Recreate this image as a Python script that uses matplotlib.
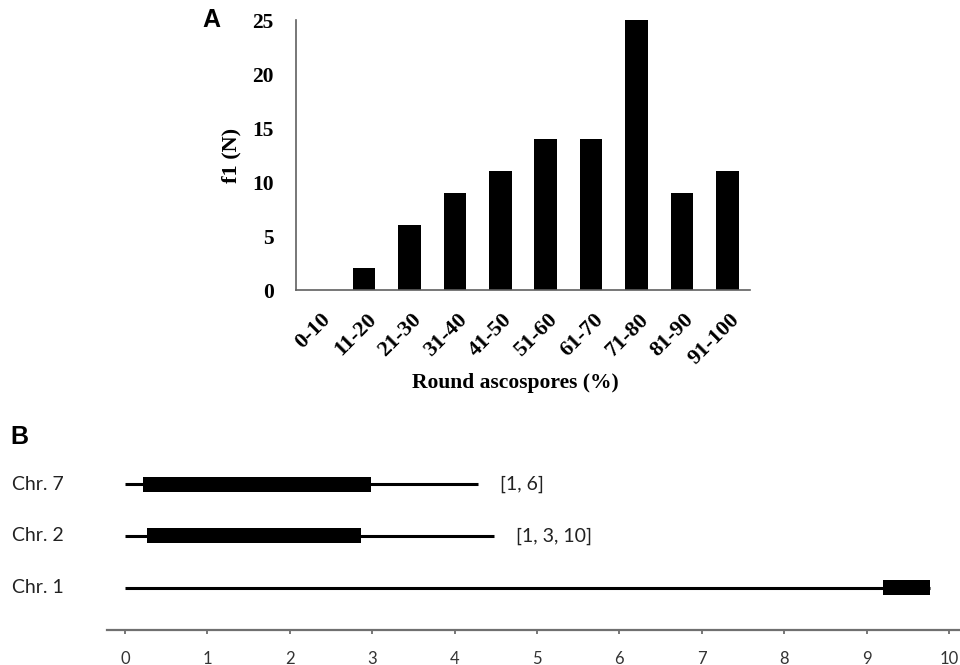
import matplotlib
matplotlib.use("Agg")
import matplotlib.pyplot as plt
import matplotlib.transforms as mtransforms

# ---- Panel A data ----
categories = ['0-10', '11-20', '21-30', '31-40', '41-50', '51-60',
              '61-70', '71-80', '81-90', '91-100']
counts = [0, 2, 6, 9, 11, 14, 14, 25, 9, 11]
yticks_a = [0, 5, 10, 15, 20, 25]

# ---- Panel B data ----
chroms = ['Chr. 7', 'Chr. 2', 'Chr. 1']
chrom_len = [4.28, 4.48, 9.77]
region_start = [0.22, 0.27, 9.2]
region_end = [2.99, 2.87, 9.77]
region_labels = ['[1, 6]', '[1, 3, 10]', '']
xticks_b = [0, 1, 2, 3, 4, 5, 6, 7, 8, 9, 10]

W, H = 960, 665
fig = plt.figure(figsize=(W / 100, H / 100), dpi=100)

def fr(x0, y0, x1, y1):
    return [x0 / W, 1 - y1 / H, (x1 - x0) / W, (y1 - y0) / H]

serif = 'Liberation Serif'

# ---------------- Panel A ----------------
axA = fig.add_axes(fr(296, 20, 750, 290))
xpos = list(range(len(categories)))
axA.bar(xpos, counts, width=0.5, color='black')
axA.set_xlim(-0.5, len(categories) - 0.5)
axA.set_ylim(0, 25)
axA.set_yticks(yticks_a)
axA.set_yticklabels([str(v) for v in yticks_a], fontfamily=serif,
                    fontweight='bold', fontsize=15.5)
axA.tick_params(axis='y', length=0, pad=16)
axA.set_xticks(xpos)
axA.set_xticklabels(categories, rotation=45, ha='right', va='top',
                    rotation_mode='anchor', fontfamily=serif,
                    fontweight='bold', fontsize=16)
axA.tick_params(axis='x', length=0, pad=14)
for lab in axA.get_xticklabels():
    lab.set_transform(lab.get_transform() +
                      mtransforms.ScaledTranslation(2 / 100, 0, fig.dpi_scale_trans))
for s in ['top', 'right']:
    axA.spines[s].set_visible(False)
for s in ['left', 'bottom']:
    axA.spines[s].set_color('#606060')
    axA.spines[s].set_linewidth(1.2)
axA.set_ylabel('f1 (N)', fontfamily=serif, fontweight='bold', fontsize=16)
axA.yaxis.set_label_coords((241 - 296) / 454, 0.5)
axA.set_xlabel('Round ascospores (%)', fontfamily=serif, fontweight='bold',
               fontsize=15.5)
axA.xaxis.set_label_coords((515 - 296) / 454, -(383 - 290) / 270)
axA.xaxis.label.set_va('center')
fig.text(202 / W, 1 - 20 / H, 'A', fontfamily='Liberation Sans',
         fontweight='bold', fontsize=18, ha='left', va='center')

# ---------------- Panel B ----------------
sans = 'Lato'
axB = fig.add_axes(fr(107, 460, 960, 630))
axB.set_xlim(-0.218, 10.134)
axB.set_ylim(0.18, 3.47)
rows = [3, 2, 1]
for y, L, s, e, lab in zip(rows, chrom_len, region_start, region_end, region_labels):
    axB.plot([0, L], [y, y], color='black', lw=2.2, solid_capstyle='butt')
    axB.barh(y, e - s, left=s, height=0.29, color='black')
    if lab:
        axB.annotate(lab, xy=(L, y), xytext=(16, 0), textcoords='offset points',
                     ha='left', va='center', fontfamily=sans, fontsize=14,
                     color='#222222')
trans = mtransforms.blended_transform_factory(fig.transFigure, axB.transData)
for y, name in zip(rows, chroms):
    fig.text(12 / W, y, name, transform=trans, ha='left', va='center',
             fontfamily=sans, fontsize=14, color='#222222')
axB.set_yticks([])
axB.set_xticks(xticks_b)
axB.set_xticklabels([str(v) for v in xticks_b], fontfamily=sans, fontsize=12,
                    color='#333333')
axB.tick_params(axis='x', direction='out', length=3, width=1.2, color='#606060',
                pad=12)
for s in ['top', 'right', 'left']:
    axB.spines[s].set_visible(False)
axB.spines['bottom'].set_color('#707070')
axB.spines['bottom'].set_linewidth(1.6)
fig.text(10 / W, 1 - 437 / H, 'B', fontfamily='Liberation Sans',
         fontweight='bold', fontsize=18, ha='left', va='center')

fig.savefig('out.png', dpi=100)
